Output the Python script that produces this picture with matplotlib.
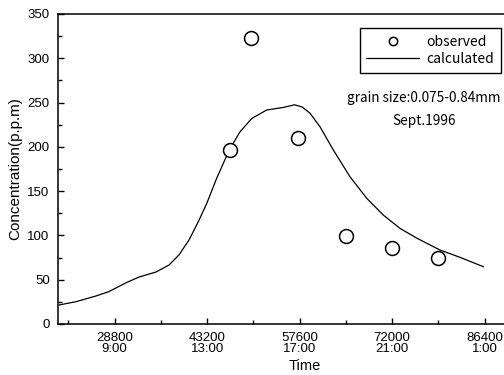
import matplotlib
matplotlib.use("Agg")
import matplotlib.pyplot as plt
from matplotlib.ticker import MultipleLocator, FixedLocator

# observed data
obs_time = [46800, 50000, 57400, 64800, 72000, 79200]
obs_conc = [196, 323, 210, 99, 86, 74]

# calculated curve
calc_time = [20200, 22800, 25900, 27900, 30600, 32600, 35250, 37270, 38830,
             40380, 41800, 43140, 44690, 46650, 48320, 50140, 52470, 55060,
             56800, 58000, 59210, 60760, 62840, 65430, 68030, 70620, 73210,
             75810, 79440, 82550, 86180]
calc_conc = [21.5, 25.2, 31.6, 36.5, 46.6, 53, 58.7, 66.6, 78,
             94.8, 115, 136, 164.5, 196.5, 217, 232, 241.6, 244.5,
             247.5, 245, 238, 222.8, 196.5, 166.3, 142, 123, 108,
             97, 83.5, 75.3, 64.7]

major_ticks = [28800, 43200, 57600, 72000, 86400]
minor_ticks = [21600, 36000, 50400, 64800, 79200]
tick_labels = ["28800\n9:00", "43200\n13:00", "57600\n17:00", "72000\n21:00", "86400\n1:00"]

plt.rcParams['font.family'] = ['Liberation Sans', 'DejaVu Sans']

fig = plt.figure(figsize=(5.04, 3.75), dpi=100)
ax = fig.add_axes([58/504, 1-324/375, 1-58/504, (324-14)/375])

ax.plot(calc_time, calc_conc, color='black', lw=0.9, label='calculated')
ax.plot(obs_time, obs_conc, linestyle='none', marker='o', ms=10, mfc='white',
        mec='black', mew=1.1, label='observed')

ax.set_xlim(20000, 89400)
ax.set_ylim(0, 350)
ax.xaxis.set_major_locator(FixedLocator(major_ticks))
ax.xaxis.set_minor_locator(FixedLocator(minor_ticks))
ax.set_xticklabels(tick_labels, linespacing=0.9)
ax.yaxis.set_major_locator(MultipleLocator(50))
ax.yaxis.set_minor_locator(MultipleLocator(25))
ax.tick_params(which='both', direction='in', labelsize=9.5, width=1)
ax.tick_params(axis='x', which='major', pad=6)
ax.tick_params(axis='y', which='major', pad=6)
ax.tick_params(which='major', length=4)
ax.tick_params(which='minor', length=3)
ax.spines['right'].set_visible(False)
for s in ['left', 'bottom', 'top']:
    ax.spines[s].set_linewidth(1.1)

ax.set_ylabel('Concentration(p.p.m)', fontsize=11, labelpad=4)
ax.set_xlabel('Time', fontsize=10.5)
ax.xaxis.set_label_coords((305-58)/446, -0.112)

handles, labels = ax.get_legend_handles_labels()
leg = ax.legend([handles[1], handles[0]], [labels[1], labels[0]],
                loc='upper right', bbox_to_anchor=(0.993, 0.955),
                fancybox=False, edgecolor='black', framealpha=1,
                markerscale=0.6, handlelength=3.8, borderpad=0.5,
                handletextpad=0.5, borderaxespad=0,
                labelspacing=0.2, prop={'family': 'Noto Sans CJK JP', 'size': 10})
leg.get_frame().set_linewidth(1.0)

ax.text((424-58)/446, 1-(98-14)/310, 'grain size:0.075-0.84mm', transform=ax.transAxes,
        ha='center', va='center', fontsize=9.8, family='Noto Sans CJK JP')
ax.text((424-58)/446, 1-(121-14)/310, 'Sept.1996', transform=ax.transAxes,
        ha='center', va='center', fontsize=9.8, family='Noto Sans CJK JP')

fig.savefig('out.png', dpi=100)
